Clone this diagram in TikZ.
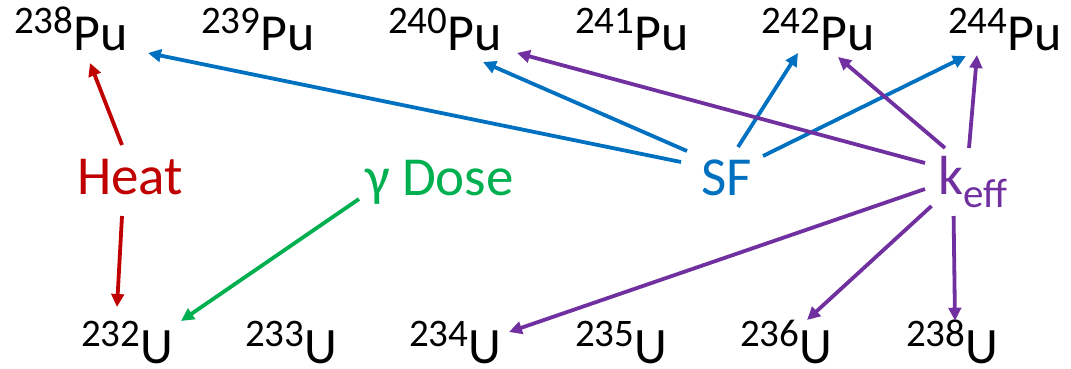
\documentclass[tikz,border=0pt]{standalone}
\usepackage{fontspec}
\setmainfont{Carlito}
\usetikzlibrary{arrows.meta}

\definecolor{heatred}{HTML}{C00000}
\definecolor{dosegreen}{HTML}{00B050}
\definecolor{sfblue}{HTML}{0070C0}
\definecolor{keffpurple}{HTML}{7030A0}

% mass number raised in front of the element symbol
\newcommand\nucl[2]{\raisebox{17pt}{\fontsize{39}{39}\selectfont #1}#2}

\begin{document}
\begin{tikzpicture}[x=1pt,y=-1pt,
  puiso/.style={inner sep=0pt, anchor=base west, font=\fontsize{52}{52}\selectfont},
  uiso/.style={inner sep=0pt, anchor=base west, text depth=0pt, font=\fontsize{51}{51}\selectfont},
  metric/.style={inner sep=0pt, anchor=base west, font=\fontsize{55}{55}\selectfont},
  link/.style={line width=3.8pt, -{Triangle[length=13pt,width=12.5pt]}},
  heatlink/.style={link, draw=heatred, fill=heatred},
  doselink/.style={link, draw=dosegreen, fill=dosegreen},
  sflink/.style={link, draw=sfblue, fill=sfblue},
  kefflink/.style={link, draw=keffpurple, fill=keffpurple}]
\useasboundingbox (0,0) rectangle (1071,368);

% plutonium isotopes
\node[puiso] (pu238) at (14,50)  {\nucl{238}{Pu}};
\node[puiso] (pu239) at (201,50) {\nucl{239}{Pu}};
\node[puiso] (pu240) at (388,50) {\nucl{240}{Pu}};
\node[puiso] (pu241) at (575,50) {\nucl{241}{Pu}};
\node[puiso] (pu242) at (761,50) {\nucl{242}{Pu}};
\node[puiso] (pu244) at (948,50) {\nucl{244}{Pu}};

% uranium isotopes
\node[uiso] (u232) at (81,363)  {\nucl{232}{U}};
\node[uiso] (u233) at (245,363) {\nucl{233}{U}};
\node[uiso] (u234) at (409,363) {\nucl{234}{U}};
\node[uiso] (u235) at (575,363) {\nucl{235}{U}};
\node[uiso] (u236) at (740,363) {\nucl{236}{U}};
\node[uiso] (u238) at (906,363) {\nucl{238}{U}};

% quantities
\node[metric, text=heatred]    (heat) at (77,194.5) {Heat};
\node[metric, text=dosegreen]  (dose) at (365,195)  {γ Dose};
\node[metric, text=sfblue]     (sf)   at (701,195.5) {SF};
\node[metric, text=keffpurple] (keff) at (938,194)  {k\raisebox{-13pt}{\fontsize{41}{41}\selectfont eff}};

% decay heat
\draw[heatlink] ([shift={(45,-49.5)}]heat.base west) -- ([shift={(76,13)}]pu238.base west);
\draw[heatlink] ([shift={(45,21.5)}]heat.base west) -- ([shift={(36,-56)}]u232.base west);

% gamma dose
\draw[doselink] ([shift={(-6,4)}]dose.base west) -- ([shift={(100,-42)}]u232.base west);

% spontaneous fission
\draw[sflink] ([shift={(-20,-33.5)}]sf.base west) -- ([shift={(134,3)}]pu238.base west);
\draw[sflink] ([shift={(-14,-44.5)}]sf.base west) -- ([shift={(95,12)}]pu240.base west);
\draw[sflink] ([shift={(37,-48.5)}]sf.base west) -- ([shift={(37,3)}]pu242.base west);
\draw[sflink] ([shift={(62,-39.5)}]sf.base west) -- ([shift={(18,6)}]pu244.base west);

% criticality
\draw[kefflink] ([shift={(-13,-31)}]keff.base west) -- ([shift={(129,3)}]pu240.base west);
\draw[kefflink] ([shift={(7,-46)}]keff.base west) -- ([shift={(77,7)}]pu242.base west);
\draw[kefflink] ([shift={(31,-46)}]keff.base west) -- ([shift={(29,5)}]pu244.base west);
\draw[kefflink] ([shift={(-13,-5)}]keff.base west) -- ([shift={(100,-31)}]u234.base west);
\draw[kefflink] ([shift={(-6.5,12)}]keff.base west) -- ([shift={(67,-43)}]u236.base west);
\draw[kefflink] ([shift={(15.6,22)}]keff.base west) -- ([shift={(49,-42.3)}]u238.base west);
\end{tikzpicture}
\end{document}
